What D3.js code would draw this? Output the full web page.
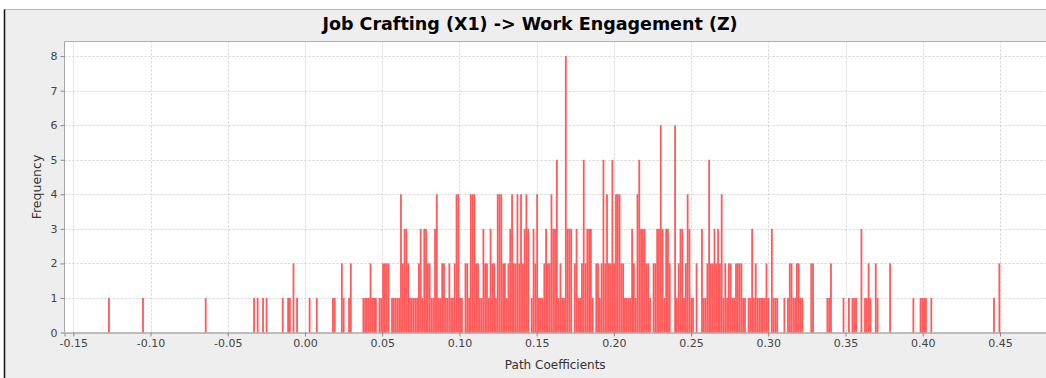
<!DOCTYPE html>
<html><head><meta charset="utf-8">
<script src="https://cdn.jsdelivr.net/npm/d3@7"></script>
<style>body{margin:0;background:#fff}svg{display:block}</style>
</head><body>
<svg id="chart" width="1046" height="378"></svg>
<script>
// ---- data ----
const chartTitle = "Job Crafting (X1) -> Work Engagement (Z)";
const xAxisLabel = "Path Coefficients";
const yAxisLabel = "Frequency";
const xTickValues = [-0.15, -0.10, -0.05, 0.00, 0.05, 0.10, 0.15, 0.20, 0.25, 0.30, 0.35, 0.40, 0.45];
const yTickValues = [0, 1, 2, 3, 4, 5, 6, 7, 8];
const binStart = -0.1275;
const binWidth = 0.00116;
// frequency of each of 500 bins
const frequencies = [
1,0,0,0,0,0,0,0,0,0, 0,0,0,0,0,0,0,0,0,1,
0,0,0,0,0,0,0,0,0,0, 0,0,0,0,0,0,0,0,0,0,
0,0,0,0,0,0,0,0,0,0, 0,0,0,0,1,0,0,0,0,0,
0,0,0,0,0,0,0,0,0,0, 0,0,0,0,0,0,0,0,0,0,
0,1,0,1,0,0,1,0,1,0, 0,0,0,0,0,0,0,1,0,0,
1,1,0,2,0,1,0,0,0,0, 0,0,1,0,0,0,1,0,0,0,
0,0,0,0,0,1,1,0,0,0, 2,1,0,0,1,2,0,0,0,0,
0,0,1,1,1,1,2,1,1,1, 0,1,1,2,2,2,2,0,1,1,
1,1,1,4,2,3,3,2,1,1, 1,1,1,2,3,1,3,3,2,2,
1,1,3,4,1,1,2,2,1,1, 2,1,1,2,4,4,1,1,0,2,
2,1,4,4,4,2,2,1,1,3, 2,2,1,3,2,2,1,4,4,4,
2,2,1,2,3,4,2,2,4,2, 4,2,3,4,3,0,1,3,2,4,
1,1,1,2,3,2,2,4,3,3, 5,1,2,1,1,8,3,3,3,0,
2,3,1,1,2,5,2,3,3,3, 1,0,2,2,1,2,5,2,4,2,
2,5,2,4,4,4,2,2,1,1, 1,1,3,2,1,4,5,3,3,3,
2,2,1,0,2,2,3,3,6,3, 1,3,3,2,0,0,6,1,2,3,
3,1,2,4,3,1,1,0,2,0, 0,3,1,1,2,5,2,2,3,2,
3,2,4,1,2,1,2,2,1,1, 2,2,2,2,1,1,0,1,1,3,
1,2,1,1,1,1,1,2,1,0, 3,1,1,1,0,0,0,1,0,1,
2,2,1,1,2,2,1,1,0,0, 0,0,2,2,0,0,0,0,0,0,
0,1,1,2,0,0,0,0,0,0, 1,0,0,1,0,1,1,1,0,0,
3,0,1,1,2,1,0,0,2,1, 0,0,0,0,0,0,2,0,0,0,
0,0,0,0,0,0,0,0,0,1, 0,0,0,1,1,1,1,0,0,1,
0,0,0,0,0,0,0,0,0,0, 0,0,0,0,0,0,0,0,0,0,
0,0,0,0,0,0,0,0,0,0, 0,0,0,0,1,0,0,2,0,0
];

// ---- layout ----
const W = 1046, H = 378;
const plot = {left: 64.5, top: 41.5, right: 1046, bottom: 332.5};
const svg = d3.select("#chart");

// outer panel
svg.append("rect").attr("x", 4.5).attr("y", 9.5).attr("width", W).attr("height", H)
  .attr("fill", "#eeeeee").attr("stroke", "#b8b8b8");
svg.append("line").attr("x1", 4.5).attr("x2", 4.5).attr("y1", 9.5).attr("y2", H)
  .attr("stroke", "#111").attr("stroke-width", 1.5);

// title
svg.append("text").attr("x", 530).attr("y", 30).attr("text-anchor", "middle")
  .attr("font-family", "'DejaVu Sans', sans-serif").attr("font-weight", "bold")
  .attr("font-size", 17.5).attr("fill", "#000").text(chartTitle);

// scales
const pxPerUnit = (1000 - 73.3) / 0.60;
const x = d3.scaleLinear()
  .domain([-0.15 - (73.3 - plot.left) / pxPerUnit, -0.15 + (plot.right - 73.3) / pxPerUnit])
  .range([plot.left, plot.right]);
const y = d3.scaleLinear()
  .domain([0, (plot.bottom - plot.top) / 34.55])
  .range([plot.bottom, plot.top]);

// plot background
svg.append("rect").attr("x", plot.left).attr("y", plot.top)
  .attr("width", plot.right - plot.left).attr("height", plot.bottom - plot.top)
  .attr("fill", "#fff");

// grid
const grid = svg.append("g").attr("stroke", "#d4d4d4").attr("stroke-dasharray", "2,2").attr("stroke-width", 1);
grid.selectAll("line.v").data(xTickValues).join("line").attr("class", "v")
  .attr("x1", d => Math.round(x(d)) + 0.5).attr("x2", d => Math.round(x(d)) + 0.5)
  .attr("y1", plot.top).attr("y2", plot.bottom);
grid.selectAll("line.h").data(yTickValues.filter(d => d > 0)).join("line").attr("class", "h")
  .attr("x1", plot.left).attr("x2", plot.right)
  .attr("y1", d => Math.round(y(d)) + 0.5).attr("y2", d => Math.round(y(d)) + 0.5);

// bars
const bins = frequencies.map((f, i) => ({x0: binStart + i * binWidth, x1: binStart + (i + 1) * binWidth, f}))
  .filter(b => b.f > 0);
svg.append("g").selectAll("rect").data(bins).join("rect")
  .attr("x", d => x(d.x0))
  .attr("width", d => x(d.x1) - x(d.x0))
  .attr("y", d => y(d.f))
  .attr("height", d => y(0) - y(d.f))
  .attr("fill", "#ff5959");

// plot borders
svg.append("line").attr("x1", plot.left).attr("x2", plot.right).attr("y1", plot.top).attr("y2", plot.top)
  .attr("stroke", "#b0b0b0");
svg.append("line").attr("x1", plot.left).attr("x2", plot.left).attr("y1", plot.top).attr("y2", plot.bottom)
  .attr("stroke", "#a8a8a8");

// axes
const fontFam = "'DejaVu Sans', sans-serif";
const xAxis = svg.append("g").attr("transform", `translate(0,${plot.bottom})`)
  .call(d3.axisBottom(x).tickValues(xTickValues).tickSize(4).tickPadding(3)
    .tickFormat(d => d.toFixed(2)));
xAxis.select(".domain").attr("stroke", "#888");
xAxis.selectAll(".tick line").attr("stroke", "#888");
xAxis.selectAll(".tick text").attr("font-family", fontFam).attr("font-size", 11).attr("fill", "#444");

const yAxis = svg.append("g").attr("transform", `translate(${plot.left},0)`)
  .call(d3.axisLeft(y).tickValues(yTickValues).tickSize(4).tickPadding(3).tickFormat(d3.format("d")));
yAxis.select(".domain").remove();
yAxis.selectAll(".tick line").attr("stroke", "#888");
yAxis.selectAll(".tick text").attr("font-family", fontFam).attr("font-size", 11).attr("fill", "#444");

// axis labels
svg.append("text").attr("x", (plot.left + plot.right) / 2).attr("y", 369)
  .attr("text-anchor", "middle").attr("font-family", fontFam).attr("font-size", 12)
  .attr("fill", "#333").text(xAxisLabel);
svg.append("text").attr("transform", `translate(41,187) rotate(-90)`)
  .attr("text-anchor", "middle").attr("font-family", fontFam).attr("font-size", 12.5)
  .attr("fill", "#333").text(yAxisLabel);
</script>
</body></html>
